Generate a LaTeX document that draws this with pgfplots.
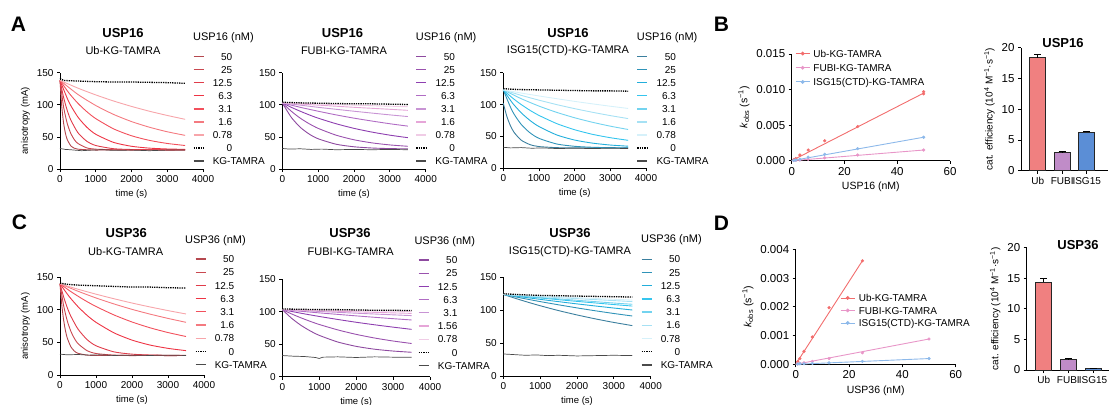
\documentclass[border=0pt]{standalone}
\usepackage{fontspec}
\setmainfont{Liberation Sans}
\setsansfont{Liberation Sans}
\usepackage{pgfplots}
\pgfplotsset{compat=1.18}

% red (Ub), purple (FUBI), blue (ISG15) ramps, darkest = 50 nM
\definecolor{rA}{HTML}{B5484F}\definecolor{rB}{HTML}{C94850}\definecolor{rC}{HTML}{E03C4A}
\definecolor{rD}{HTML}{EE3444}\definecolor{rE}{HTML}{F2505C}\definecolor{rF}{HTML}{F47A80}
\definecolor{rG}{HTML}{F7A5AA}
\definecolor{pA}{HTML}{8E4AA0}\definecolor{pB}{HTML}{9A52AE}\definecolor{pC}{HTML}{8E3FB0}
\definecolor{pD}{HTML}{B06CC4}\definecolor{pE}{HTML}{C894D4}\definecolor{pF}{HTML}{E6A6D8}
\definecolor{pG}{HTML}{F0CCE6}
\definecolor{bA}{HTML}{3B7F9E}\definecolor{bB}{HTML}{2F93B8}\definecolor{bC}{HTML}{22AEDB}
\definecolor{bD}{HTML}{35C5EE}\definecolor{bE}{HTML}{73D3EF}\definecolor{bF}{HTML}{A6E1F4}
\definecolor{bG}{HTML}{D6F1FA}
\definecolor{kgray}{HTML}{4A4A4A}
\definecolor{kUb}{HTML}{F26D6D}\definecolor{kFU}{HTML}{E896C8}\definecolor{kIS}{HTML}{8DB9EA}
\definecolor{barUb}{HTML}{F08080}\definecolor{barFU}{HTML}{C08CC8}\definecolor{barIS}{HTML}{5B8ED6}

\pgfplotsset{
  gp/.style={scale only axis, anchor=south west, axis x line*=bottom, axis y line*=left,
    axis line style={-, line width=0.8pt, black}, tick align=outside,
    major tick style={line width=0.8pt, black}, major tick length=3pt,
    /pgf/number format/assume math mode=true, /pgf/number format/1000 sep={}, clip=false},
  tp/.style={gp, xmin=0, xmax=4000, ymin=0, ymax=150,
    xtick={0,1000,2000,3000,4000}, ytick={0,50,100,150},
    tick label style={font=\fontsize{10}{10}\selectfont},
    label style={font=\fontsize{9.5}{10}\selectfont},
    xlabel={time (s)},
    legend cell align=right,
    legend image code/.code={\draw[##1, line width=1.3pt] (0pt,0pt) -- (10pt,0pt);}},
  tleg/.style n args={3}{legend style={at={(#1,#2)}, anchor=north west, draw=none, fill=none,
    inner sep=0pt, outer sep=0pt, row sep=#3, column sep=8.5pt,
    font=\fontsize{10}{10}\selectfont, nodes={inner sep=0pt, text height=7.2pt, text depth=0pt}}},
  cv/.style={line width=0.9pt, smooth, tension=0.4, no marks},
  zero/.style={black, densely dotted, line width=1.3pt, no marks},
  kg/.style={kgray, line width=0.7pt, no marks},
  kp/.style={gp, tick label style={font=\fontsize{11.5}{12}\selectfont},
    label style={font=\fontsize{10.5}{11}\selectfont},
    xmin=0, xmax=60, ymin=0, xtick={0,20,40,60}, scaled y ticks=false,
    yticklabel style={/pgf/number format/fixed, /pgf/number format/fixed zerofill, /pgf/number format/precision=3},
    ylabel={\textit{k}\textsubscript{obs} (s\textsuperscript{−1})},
    legend cell align=left,
    legend image code/.code={\draw[mark repeat=2, mark phase=2, ##1] plot coordinates {(0pt,0pt) (7pt,0pt) (14pt,0pt)};}},
  fit/.style={line width=0.9pt, no marks, forget plot},
  pts/.style={only marks, mark=*, mark size=1.4pt, forget plot},
  bp/.style={gp, ymin=0, ymax=20, ytick={0,5,10,15,20}, xtick={0,1,2}, xticklabels={Ub,FUBI,ISG15},
    yticklabel style={font=\fontsize{11.5}{12}\selectfont},
    xticklabel style={font=\fontsize{10}{10}\selectfont},
    label style={font=\fontsize{10}{10}\selectfont},
    ylabel={cat. efficiency (10\textsuperscript{4} M\textsuperscript{−1}·s\textsuperscript{−1})}},
  br/.style={ybar, bar shift=0pt, bar width=16pt, draw=black!85, line width=0.8pt,
    error bars/.cd, y dir=plus, y explicit,
    error bar style={line width=0.8pt, black},
    error mark options={rotate=90, mark size=3.5pt, line width=0.8pt, black}},
}

\begin{document}
\begin{tikzpicture}
\useasboundingbox (0pt,0pt) rectangle (1110pt,-404pt);

% ---------------- row A / B : USP16 ----------------
\begin{axis}[tp, at={(60pt,-169pt)}, width=143pt, height=96.3pt, ylabel={anisotropy (mA)},
  tleg={0.930}{1.2035}{5.84pt}]
\addplot[cv, rA] coordinates {(0,138)(50,97)(100,71.8)(150,56)(200,46.2)(300,36.2)(400,32.4)(500,30.9)(750,30)(1000,29.5)(1500,29.8)(2000,29.5)(2500,29.8)(3000,29.5)(3500,29.6)};
\addlegendentry{50}
\addplot[cv, rB] coordinates {(0,138)(100,96.8)(200,71.4)(300,55.6)(400,45.8)(500,39.8)(750,32.9)(1000,30.9)(1500,30)(2000,29.7)(2500,30)(3000,29.6)(3500,29.8)};
\addlegendentry{25}
\addplot[cv, rC] coordinates {(0,138)(100,111.6)(200,91.7)(300,76.6)(500,56.6)(750,43.2)(1000,36.6)(1500,31.6)(2000,30.4)(2500,30)(3000,29.8)(3500,29.9)};
\addlegendentry{12.5}
\addplot[cv, rD] coordinates {(0,138)(250,104.2)(500,81)(750,65.1)(1000,54.1)(1500,41.4)(2000,35.4)(2500,32.5)(3000,31.2)(3500,30.6)};
\addlegendentry{6.3}
\addplot[cv, rE] coordinates {(0,138)(250,118.4)(500,102.4)(750,89.3)(1000,78.5)(1500,62.5)(2000,51.8)(2500,44.6)(3000,39.8)(3500,36.6)};
\addlegendentry{3.1}
\addplot[cv, rF] coordinates {(0,138)(500,116.2)(1000,98.9)(1500,85)(2000,73.9)(2500,65.1)(3000,58)(3500,52.4)};
\addlegendentry{1.6}
\addplot[cv, rG] coordinates {(0,138)(500,126)(1000,115.4)(1500,105.9)(2000,97.5)(2500,90)(3000,83.4)(3500,77.4)};
\addlegendentry{0.78}
\addplot[zero] coordinates {(0,141)(100,138)(250,137.5)(500,137)(750,136.5)(1000,136)(1500,135.5)(2000,135.5)(2500,135)(3000,134.5)(3500,133.5)};
\addlegendentry{0}
\addplot[kg] coordinates {(0,32)(150,30.5)(300,30)(600,28.5)(900,29.5)(1200,30)(1500,29)(2000,29.5)(2500,28.5)(3000,29.5)(3500,29.5)};
\addlegendentry{\makebox[19.5pt][l]{KG-TAMRA}}
\end{axis}

\begin{axis}[tp, at={(282.3pt,-169pt)}, width=143.4pt, height=96.3pt,
  tleg={0.930}{1.2035}{5.84pt}]
\addplot[cv, pA] coordinates {(0,103)(250,80.5)(500,65)(750,54.4)(1000,47.1)(1500,38.6)(2000,34.6)(2500,32.7)(3000,31.8)(3500,31.4)};
\addlegendentry{50}
\addplot[cv, pB] coordinates {(0,103)(250,90)(500,79.2)(750,70.5)(1000,63.3)(1500,52.7)(2000,45.5)(2500,40.7)(3000,37.5)(3500,35.4)};
\addlegendentry{25}
\addplot[cv, pC] coordinates {(0,103)(250,96.1)(500,90)(750,84.3)(1000,79.2)(1500,70.5)(2000,63.3)(2500,57.5)(3000,52.7)(3500,48.8)};
\addlegendentry{12.5}
\addplot[cv, pD] coordinates {(0,103)(500,96.1)(1000,90)(1500,84.3)(2000,79.2)(2500,74.7)(3000,70.5)(3500,66.8)};
\addlegendentry{6.3}
\addplot[cv, pE] coordinates {(0,103)(500,99.5)(1000,96.1)(1500,93)(2000,90)(2500,87.1)(3000,84.3)(3500,81.7)};
\addlegendentry{3.1}
\addplot[cv, pF] coordinates {(0,103)(1000,99.5)(2000,96.1)(3000,93)(3500,91.4)};
\addlegendentry{1.6}
\addplot[cv, pG] coordinates {(0,103)(1000,101.2)(2000,99.5)(3000,97.8)(3500,97)};
\addlegendentry{0.78}
\addplot[zero] coordinates {(0,104)(250,103.5)(500,103)(1000,102.5)(1500,102)(2000,101.5)(2500,101.5)(3000,101)(3500,100.5)};
\addlegendentry{0}
\addplot[kg] coordinates {(0,32)(200,31)(500,31.5)(800,30.5)(1100,31)(1500,30)(2000,30.5)(2500,30)(3000,30.5)(3500,30)};
\addlegendentry{\makebox[19.5pt][l]{KG-TAMRA}}
\end{axis}

\begin{axis}[tp, at={(503.3pt,-168.3pt)}, width=142.7pt, height=95.6pt,
  tleg={0.935}{1.205}{5.84pt}]
\addplot[cv, bA] coordinates {(0,102)(100,81.3)(200,66.8)(300,56.5)(500,44.2)(750,37.1)(1000,34.1)(1500,32.4)(2000,32)(2500,32.2)(3000,31.8)(3500,32)};
\addlegendentry{50}
\addplot[cv, bB] coordinates {(0,123)(250,90)(500,69)(750,55.6)(1000,47)(1500,38.1)(2000,34.5)(2500,33)(3000,32.4)(3500,32.2)};
\addlegendentry{25}
\addplot[cv, bC] coordinates {(0,123)(250,102.9)(500,87.2)(750,75)(1000,65.5)(1500,52.3)(2000,44.3)(2500,39.5)(3000,36.5)(3500,34.7)};
\addlegendentry{12.5}
\addplot[cv, bD] coordinates {(0,123)(250,110.7)(500,100.1)(750,90.9)(1000,83)(1500,70.1)(2000,60.5)(2500,53.3)(3000,48)(3500,43.9)};
\addlegendentry{6.3}
\addplot[cv, bE] coordinates {(0,123)(500,109.3)(1000,97.6)(1500,87.7)(2000,79.3)(2500,72.2)(3000,66.1)(3500,60.9)};
\addlegendentry{3.1}
\addplot[cv, bF] coordinates {(0,123)(500,114.5)(1000,106.9)(1500,99.9)(2000,93.6)(2500,87.9)(3000,82.7)(3500,78)};
\addlegendentry{1.6}
\addplot[cv, bG] coordinates {(0,123)(500,118.1)(1000,113.5)(1500,109.2)(2000,105)(2500,101.1)(3000,97.4)(3500,93.9)};
\addlegendentry{0.78}
\addplot[zero] coordinates {(0,125)(250,124)(500,123.5)(1000,123)(1500,122.5)(2000,122)(2500,121.5)(3000,121.5)(3500,121)};
\addlegendentry{0}
\addplot[kg] coordinates {(0,33)(200,32)(500,32.5)(800,31.5)(1100,32)(1500,31)(2000,31.5)(2500,31)(3000,31.5)(3500,31)};
\addlegendentry{\makebox[19.5pt][l]{KG-TAMRA}}
\end{axis}

\begin{axis}[kp, at={(791.7pt,-160.7pt)}, width=158.3pt, height=106.7pt,
  ymax=0.015, ytick={0,0.005,0.01,0.015}, xlabel={USP16 (nM)},
  legend style={at={(0.021,1.04)}, anchor=north west, draw=none, fill=none, inner sep=0pt,
    row sep=7pt, column sep=3.3pt, font=\fontsize{10}{10}\selectfont,
    nodes={inner sep=0pt, text height=7.2pt, text depth=0pt}}]
\addplot[fit, kUb] coordinates {(0,0)(50,0.0095)};
\addplot[fit, kFU] coordinates {(0,0)(50,0.0015)};
\addplot[fit, kIS] coordinates {(0,0)(50,0.0033)};
\addplot[pts, kUb] coordinates {(0.78,0.00015)(1.56,0.0003)(3.1,0.0008)(6.25,0.0015)(12.5,0.0028)(25,0.0048)(50,0.0094)(50,0.0097)};
\addplot[pts, kFU] coordinates {(0.78,0.00003)(1.56,0.00006)(3.1,0.0001)(6.25,0.0002)(12.5,0.0004)(25,0.0008)(50,0.0015)};
\addplot[pts, kIS] coordinates {(0.78,0.00005)(1.56,0.0001)(3.1,0.0002)(6.25,0.0005)(12.5,0.0009)(25,0.0017)(50,0.0033)};
\addlegendimage{kUb, line width=0.9pt, mark=*, mark size=1.4pt}
\addlegendentry{Ub-KG-TAMRA}
\addlegendimage{kFU, line width=0.9pt, mark=*, mark size=1.4pt}
\addlegendentry{FUBI-KG-TAMRA}
\addlegendimage{kIS, line width=0.9pt, mark=*, mark size=1.4pt}
\addlegendentry{ISG15(CTD)-KG-TAMRA}
\end{axis}

\begin{axis}[bp, at={(1021pt,-170.7pt)}, width=87pt, height=123pt, xmin=-0.68, xmax=2.87]
\addplot[fill=barUb, br] coordinates {(0,18.4) +- (0,0.5)};
\addplot[fill=barFU, br] coordinates {(1,2.93) +- (0,0.15)};
\addplot[fill=barIS, br] coordinates {(2,6.3) +- (0,0.15)};
\end{axis}

% ---------------- row C / D : USP36 ----------------
\begin{axis}[tp, at={(60pt,-375pt)}, width=144pt, height=97.7pt, ylabel={anisotropy (mA)},
  tleg={0.9375}{1.224}{6.0pt}]
\addplot[cv, rA] coordinates {(0,140)(50,107.5)(100,84.6)(150,68.5)(200,57.1)(300,43.5)(400,36.7)(500,33.3)(750,30.6)(1000,30)(1500,30.3)(2000,29.8)(2500,30.2)(3000,29.8)(3500,30)};
\addlegendentry{50}
\addplot[cv, rB] coordinates {(0,140)(100,106.7)(200,83.5)(300,67.4)(400,56.1)(500,48.2)(750,37.4)(1000,33)(1500,30.5)(2000,30)(2500,30.2)(3000,29.8)(3500,30)};
\addlegendentry{25}
\addplot[cv, rC] coordinates {(0,140)(100,120.1)(200,103.7)(300,90.4)(500,70.5)(750,54.5)(1000,44.9)(1500,35.5)(2000,32)(2500,30.7)(3000,30.3)(3500,30.1)};
\addlegendentry{12.5}
\addplot[cv, rD] coordinates {(0,140)(250,120.8)(500,104.9)(750,91.7)(1000,80.9)(1500,64.7)(2000,53.6)(2500,46)(3000,40.9)(3500,37.4)};
\addlegendentry{6.3}
\addplot[cv, rE] coordinates {(0,140)(250,130)(500,121)(750,112.7)(1000,105.2)(1500,92.2)(2000,81.4)(2500,72.5)(3000,65.2)(3500,59.1)};
\addlegendentry{3.1}
\addplot[cv, rF] coordinates {(0,140)(500,128.6)(1000,118.3)(1500,109.1)(2000,100.8)(2500,93.5)(3000,86.9)(3500,80.9)};
\addlegendentry{1.6}
\addplot[cv, rG] coordinates {(0,140)(500,131.7)(1000,124.1)(1500,117.1)(2000,110.5)(2500,104.5)(3000,98.9)(3500,93.7)};
\addlegendentry{0.78}
\addplot[zero] coordinates {(0,141)(250,139)(500,138)(1000,137)(1500,136)(2000,135)(2500,135)(3000,134)(3500,133.5)};
\addlegendentry{0}
\addplot[kg] coordinates {(0,32)(200,31)(500,31.5)(800,30.5)(1100,31)(1500,30)(2000,30.5)(2500,30)(3000,30.5)(3500,30)};
\addlegendentry{\makebox[19.5pt][l]{KG-TAMRA}}
\end{axis}

\begin{axis}[tp, at={(282.3pt,-376.7pt)}, width=147.7pt, height=97.7pt,
  tleg={0.919}{1.231}{6.0pt}]
\addplot[cv, pA] coordinates {(0,103)(250,89.8)(500,79.1)(750,70.5)(1000,63.5)(1500,53.3)(2000,46.6)(2500,42.2)(3000,39.4)(3500,37.5)};
\addlegendentry{50}
\addplot[cv, pB] coordinates {(0,103)(250,96.4)(500,90.5)(750,85.1)(1000,80.2)(1500,71.9)(2000,65)(2500,59.4)(3000,54.8)(3500,51)};
\addlegendentry{25}
\addplot[cv, pC] coordinates {(0,103)(500,97.5)(1000,92.5)(1500,87.9)(2000,83.6)(2500,79.7)(3000,76.1)(3500,72.7)};
\addlegendentry{12.5}
\addplot[cv, pD] coordinates {(0,103)(500,100.5)(1000,98)(1500,95.7)(2000,93.4)(2500,91.2)(3000,89.1)(3500,87.1)};
\addlegendentry{6.3}
\addplot[cv, pE] coordinates {(0,103)(1000,100.2)(2000,97.5)(3000,95)(3500,93.8)};
\addlegendentry{3.1}
\addplot[cv, pF] coordinates {(0,103)(1000,101.3)(2000,99.6)(3000,98)(3500,97.2)};
\addlegendentry{1.56}
\addplot[cv, pG] coordinates {(0,103)(1000,102.2)(2000,101.3)(3500,100.2)};
\addlegendentry{0.78}
\addplot[zero] coordinates {(0,104)(500,103.5)(1000,103)(1500,103)(2000,102.5)(2500,102)(3000,102)(3500,101.5)};
\addlegendentry{0}
\addplot[kg] coordinates {(0,32.5)(300,31.5)(600,31)(900,29.5)(1000,28)(1100,30)(1500,30.5)(2000,29.5)(2500,30.5)(3000,30)(3500,30)};
\addlegendentry{\makebox[19.5pt][l]{KG-TAMRA}}
\end{axis}

\begin{axis}[tp, at={(503.3pt,-376pt)}, width=147.4pt, height=98.7pt,
  tleg={0.934}{1.219}{6.0pt}]
\addplot[cv, bA] coordinates {(0,124)(250,119.4)(500,115)(750,110.8)(1000,106.8)(1500,99.4)(2000,92.8)(2500,86.8)(3000,81.4)(3500,76.6)};
\addlegendentry{50}
\addplot[cv, bB] coordinates {(0,124)(500,118.4)(1000,113.1)(1500,108.2)(2000,103.5)(2500,99.1)(3000,95)(3500,91.2)};
\addlegendentry{25}
\addplot[cv, bC] coordinates {(0,124)(500,120.2)(1000,116.5)(1500,113)(2000,109.6)(2500,106.4)(3000,103.3)(3500,100.3)};
\addlegendentry{12.5}
\addplot[cv, bD] coordinates {(0,124)(500,121.2)(1000,118.6)(1500,116)(2000,113.4)(2500,111)(3000,108.6)(3500,106.3)};
\addlegendentry{6.3}
\addplot[cv, bE] coordinates {(0,124)(1000,119.4)(2000,115.1)(3000,110.9)(3500,109)};
\addlegendentry{3.1}
\addplot[cv, bF] coordinates {(0,124)(1000,120.7)(2000,117.6)(3000,114.6)(3500,113.1)};
\addlegendentry{1.6}
\addplot[cv, bG] coordinates {(0,124)(1000,121.5)(2000,119)(3000,116.6)(3500,115.4)};
\addlegendentry{0.78}
\addplot[zero] coordinates {(0,125)(500,123.5)(1000,122.5)(1500,122)(2000,121.5)(2500,121)(3000,120.5)(3500,120)};
\addlegendentry{0}
\addplot[kg] coordinates {(0,33.5)(300,32.5)(600,31.5)(900,32)(1200,31)(1500,31.5)(2000,30.5)(2500,31)(3000,31.5)(3500,31)};
\addlegendentry{\makebox[19.5pt][l]{KG-TAMRA}}
\end{axis}

\begin{axis}[kp, at={(795.7pt,-364.3pt)}, width=160pt, height=115pt,
  ymax=0.004, ytick={0,0.001,0.002,0.003,0.004}, xlabel={USP36 (nM)},
  legend style={at={(0.277,0.610)}, anchor=north west, draw=none, fill=none, inner sep=0pt,
    row sep=5.3pt, column sep=3.7pt, font=\fontsize{10}{10}\selectfont,
    nodes={inner sep=0pt, text height=7.2pt, text depth=0pt}}]
\addplot[fit, kUb] coordinates {(0,0)(25,0.0036)};
\addplot[fit, kFU] coordinates {(0,0)(50,0.00088)};
\addplot[fit, kIS] coordinates {(0,0)(50,0.0002)};
\addplot[pts, kUb] coordinates {(0.78,0.0001)(1.56,0.0002)(3.1,0.00045)(6.25,0.00095)(12.5,0.00197)(25,0.0036)};
\addplot[pts, kFU] coordinates {(0.78,0.00001)(1.56,0.00003)(3.1,0.00005)(6.25,0.0001)(12.5,0.0002)(25,0.0004)(50,0.00088)};
\addplot[pts, kIS] coordinates {(0.78,0.00001)(1.56,0.00002)(3.1,0.00002)(6.25,0.00003)(12.5,0.00005)(25,0.0001)(50,0.0002)};
\addlegendimage{kUb, line width=0.9pt, mark=*, mark size=1.4pt}
\addlegendentry{Ub-KG-TAMRA}
\addlegendimage{kFU, line width=0.9pt, mark=*, mark size=1.4pt}
\addlegendentry{FUBI-KG-TAMRA}
\addlegendimage{kIS, line width=0.9pt, mark=*, mark size=1.4pt}
\addlegendentry{ISG15(CTD)-KG-TAMRA}
\end{axis}

\begin{axis}[bp, at={(1026.7pt,-370pt)}, width=82.3pt, height=122.3pt, xmin=-0.69, xmax=2.65]
\addplot[fill=barUb, br] coordinates {(0,14.4) +- (0,0.5)};
\addplot[fill=barFU, br] coordinates {(1,1.7) +- (0,0.15)};
\addplot[fill=barIS, br] coordinates {(2,0.2) +- (0,0.1)};
\end{axis}

% ---------------- titles, legend headings, panel letters ----------------
\begin{scope}[every node/.style={inner sep=0pt}]
\node[font=\fontsize{13}{13}\selectfont\bfseries] at (123pt,-33pt) {USP16};
\node[font=\fontsize{11}{11}\selectfont] at (123pt,-51pt) {Ub-KG-TAMRA};
\node[font=\fontsize{13}{13}\selectfont\bfseries] at (342.5pt,-33pt) {USP16};
\node[font=\fontsize{11}{11}\selectfont] at (344pt,-51pt) {FUBI-KG-TAMRA};
\node[font=\fontsize{13}{13}\selectfont\bfseries] at (568pt,-33pt) {USP16};
\node[font=\fontsize{11}{11}\selectfont] at (568pt,-51pt) {ISG15(CTD)-KG-TAMRA};
\node[font=\fontsize{13}{13}\selectfont\bfseries] at (1063pt,-43pt) {USP16};
\node[font=\fontsize{13}{13}\selectfont\bfseries] at (126.3pt,-233pt) {USP36};
\node[font=\fontsize{11}{11}\selectfont] at (125.7pt,-251.7pt) {Ub-KG-TAMRA};
\node[font=\fontsize{13}{13}\selectfont\bfseries] at (350pt,-233pt) {USP36};
\node[font=\fontsize{11}{11}\selectfont] at (350.7pt,-251.5pt) {FUBI-KG-TAMRA};
\node[font=\fontsize{13}{13}\selectfont\bfseries] at (570pt,-233pt) {USP36};
\node[font=\fontsize{11}{11}\selectfont] at (570pt,-252pt) {ISG15(CTD)-KG-TAMRA};
\node[font=\fontsize{13}{13}\selectfont\bfseries] at (1078pt,-245pt) {USP36};
\node[anchor=west, font=\fontsize{11}{11}\selectfont] at (193pt,-38pt) {USP16 (nM)};
\node[anchor=west, font=\fontsize{11}{11}\selectfont] at (415.7pt,-38pt) {USP16 (nM)};
\node[anchor=west, font=\fontsize{11}{11}\selectfont] at (636.7pt,-38pt) {USP16 (nM)};
\node[anchor=west, font=\fontsize{11}{11}\selectfont] at (185pt,-240.7pt) {USP36 (nM)};
\node[anchor=west, font=\fontsize{11}{11}\selectfont] at (414.3pt,-241.7pt) {USP36 (nM)};
\node[anchor=west, font=\fontsize{11}{11}\selectfont] at (641pt,-240pt) {USP36 (nM)};
\node[font=\fontsize{21}{21}\selectfont\bfseries] at (18.5pt,-24.5pt) {A};
\node[font=\fontsize{21}{21}\selectfont\bfseries] at (721.5pt,-24.5pt) {B};
\node[font=\fontsize{21}{21}\selectfont\bfseries] at (19.5pt,-222.5pt) {C};
\node[font=\fontsize{21}{21}\selectfont\bfseries] at (721.5pt,-223.5pt) {D};
\end{scope}
\end{tikzpicture}
\end{document}
